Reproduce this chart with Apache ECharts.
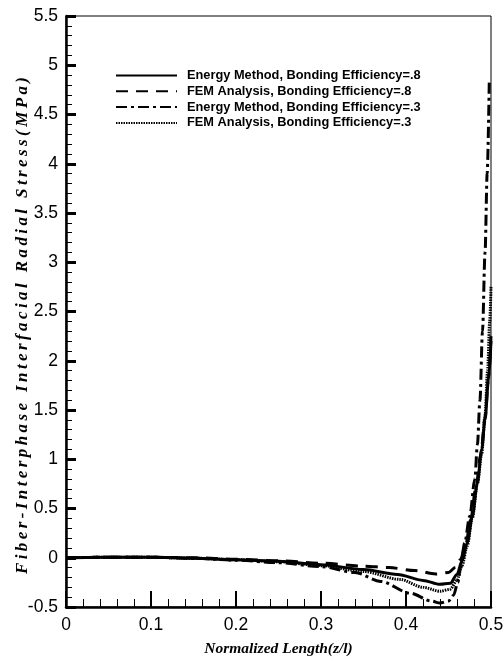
<!DOCTYPE html>
<html>
<head>
<meta charset="utf-8">
<script src="https://cdn.jsdelivr.net/npm/echarts@6/dist/echarts.min.js"></script>
<style>
html,body{margin:0;padding:0;background:#fff;}
#c{width:504px;height:662px;}
</style>
</head>
<body>
<div id="c"></div>
<script>
// ---- data ----
const seriesNames = [
  'Energy Method, Bonding Efficiency=.8',
  'FEM Analysis, Bonding Efficiency=.8',
  'Energy Method, Bonding Efficiency=.3',
  'FEM Analysis, Bonding Efficiency=.3'
];
const energy08 = [[0,0],[0.05,0.005],[0.1,0.005],[0.15,-0.005],[0.2,-0.02],[0.25,-0.035],[0.3,-0.07],[0.35,-0.12],[0.39,-0.17],[0.42,-0.23],[0.44,-0.27],[0.452,-0.26],[0.46,-0.17],[0.466,-0.03],[0.472,0.15],[0.478,0.42],[0.484,0.76],[0.489,1.1],[0.493,1.4],[0.497,1.8],[0.5,2.2]];
const fem08 = [[0,0],[0.05,0.005],[0.1,0.005],[0.15,0],[0.2,-0.015],[0.25,-0.03],[0.3,-0.055],[0.35,-0.085],[0.38,-0.1],[0.41,-0.13],[0.435,-0.165],[0.45,-0.15],[0.458,-0.1],[0.464,-0.02],[0.47,0.12],[0.476,0.38],[0.482,0.7],[0.488,1.05],[0.493,1.42],[0.497,1.82],[0.5,2.25]];
const energy03 = [[0,0],[0.05,0.005],[0.1,0.005],[0.15,-0.005],[0.2,-0.025],[0.25,-0.05],[0.3,-0.09],[0.34,-0.15],[0.37,-0.24],[0.405,-0.36],[0.43,-0.44],[0.44,-0.46],[0.45,-0.44],[0.456,-0.38],[0.461,-0.25],[0.464,-0.1],[0.469,0.15],[0.475,0.42],[0.481,0.8],[0.484,1.15],[0.487,1.6],[0.49,2.3],[0.493,3.1],[0.4955,3.9],[0.498,4.85]];
const fem03 = [[0,0],[0.05,0.005],[0.1,0.005],[0.15,-0.005],[0.2,-0.02],[0.25,-0.04],[0.3,-0.08],[0.35,-0.14],[0.393,-0.22],[0.42,-0.3],[0.44,-0.34],[0.452,-0.32],[0.46,-0.23],[0.466,-0.08],[0.472,0.12],[0.478,0.4],[0.484,0.75],[0.489,1.05],[0.493,1.45],[0.496,1.9],[0.4985,2.4],[0.5,2.75]];
const xAxisTitle = 'Normalized Length(z/l)';
const yAxisTitle = 'Fiber-Interphase Interfacial Radial Stress(MPa)';

// ---- chart ----
const sans = "'Liberation Sans Narrow','Arial Narrow','Liberation Sans',Arial,sans-serif";
const serif = "'Liberation Serif','Times New Roman',serif";
const spaced = s => s.split(' ').map(w => w.split('').join('\u2009')).join('\u2009 \u2009');

const lineStyles = [
  {width: 3, type: 'solid'},
  {width: 3, type: [12, 8]},
  {width: 3, type: [11, 4, 3, 4]},
  {width: 3, type: [1.5, 1]}
];
const dataSets = [energy08, fem08, energy03, fem03];

const chart = echarts.init(document.getElementById('c'), null, {renderer: 'canvas'});
chart.setOption({
  animation: false,
  backgroundColor: '#fff',
  grid: {left: 66, right: 13, top: 16, bottom: 55, containLabel: false, outerBoundsMode: 'none',
         show: true, borderColor: '#000', borderWidth: 1, backgroundColor: 'transparent'},
  legend: {
    orient: 'vertical', left: 115, top: 69, padding: 0,
    itemWidth: 61, itemHeight: 14, itemGap: 2.8,
    data: seriesNames,
    itemStyle: {opacity: 0, borderWidth: 0},
    textStyle: {fontFamily: sans, fontWeight: 'bold', fontSize: 12.8, color: '#000', padding: [0,0,0,5]}
  },
  xAxis: {
    type: 'value', min: 0, max: 0.5, interval: 0.1,
    name: xAxisTitle, nameLocation: 'middle', nameGap: 34, nameMoveOverlap: false,
    nameTextStyle: {fontFamily: serif, fontStyle: 'italic', fontWeight: 'bold', fontSize: 15.5, color: '#000'},
    axisLine: {show: true, onZero: false, lineStyle: {color: '#000', width: 2.5}},
    axisTick: {show: true, inside: true, length: 16, lineStyle: {color: '#000', width: 2}},
    minorTick: {show: true, splitNumber: 5, length: 8, lineStyle: {color: '#000', width: 1}},
    axisLabel: {fontFamily: sans, fontSize: 17.5, color: '#000', margin: 9},
    splitLine: {show: false}
  },
  yAxis: {
    type: 'value', min: -0.5, max: 5.5, interval: 0.5,
    name: spaced(yAxisTitle), nameLocation: 'middle', nameGap: 35, nameMoveOverlap: false,
    nameTextStyle: {fontFamily: serif, fontStyle: 'italic', fontWeight: 'bold', fontSize: 17, color: '#000', padding: [0, 28, 0, 0]},
    axisLine: {show: true, onZero: false, lineStyle: {color: '#000', width: 2.5}},
    axisTick: {show: true, inside: true, length: 10, lineStyle: {color: '#000', width: 3}},
    minorTick: {show: true, splitNumber: 5, length: 6, lineStyle: {color: '#000', width: 1}},
    axisLabel: {fontFamily: sans, fontSize: 17.5, color: '#000', margin: 8},
    splitLine: {show: false}
  },
  series: dataSets.map((d, i) => ({
    name: seriesNames[i],
    type: 'line',
    data: d,
    showSymbol: false,
    symbol: 'none',
    smooth: 0.3,
    smoothMonotone: 'x',
    clip: true,
    lineStyle: Object.assign({color: '#000'}, lineStyles[i]),
    itemStyle: {color: '#000'}
  }))
});
</script>
</body>
</html>
